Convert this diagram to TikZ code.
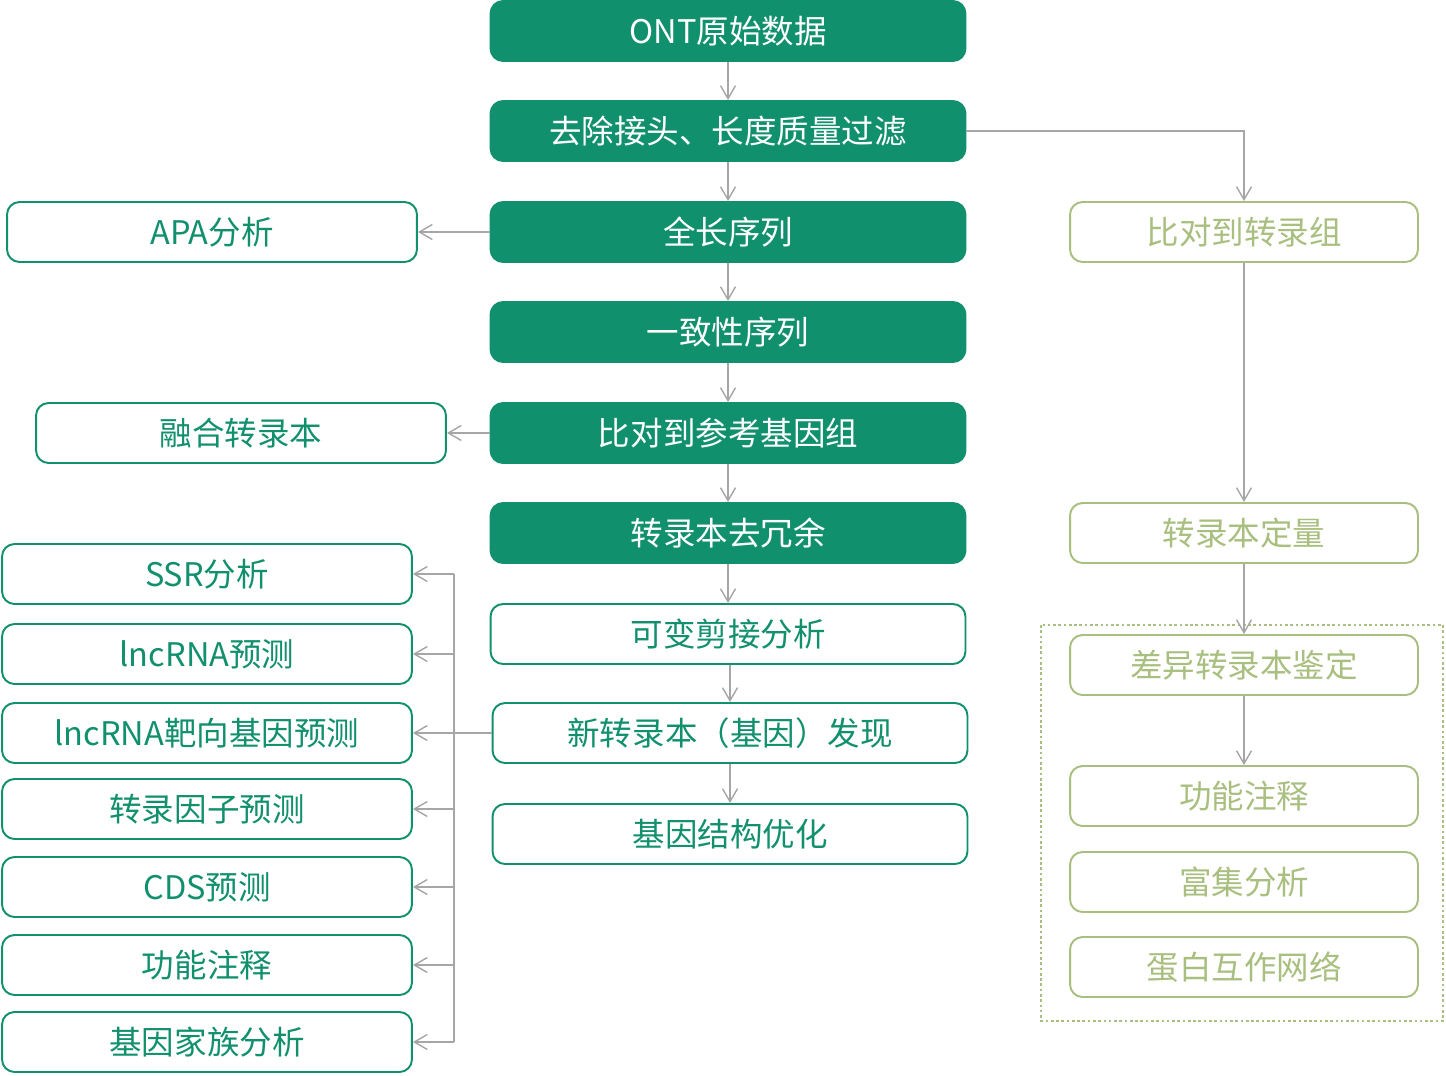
\documentclass[tikz,border=0pt]{standalone}
\usepackage{fontspec}
\setmainfont{Noto Sans CJK SC}
\usetikzlibrary{arrows.meta}
\definecolor{ontgreen}{HTML}{11906E}
\definecolor{palegreen}{HTML}{A9BF7F}
\definecolor{linkgray}{HTML}{A6A6A6}
\newcommand{\boxfont}{\fontsize{18.5}{22}\selectfont}

\begin{document}
\begin{tikzpicture}[
        x=0.02cm, y=-0.02cm,
        filled/.style={rectangle, rounded corners=0.25cm, draw=ontgreen, fill=ontgreen, text=white, line width=1.1pt, minimum width=9.5cm, minimum height=1.2cm, inner sep=0pt, font=\boxfont},
        outline/.style={rectangle, rounded corners=0.25cm, draw=ontgreen, fill=white, text=ontgreen, line width=1.1pt, minimum width=#1, minimum height=1.2cm, inner sep=0pt, font=\boxfont},
        outline/.default=8.2cm,
        pale/.style={rectangle, rounded corners=0.25cm, draw=palegreen, fill=white, text=palegreen, line width=1.1pt, minimum width=6.96cm, minimum height=1.2cm, inner sep=0pt, font=\boxfont},
        line/.style={draw=linkgray, line width=0.8pt},
        link/.style={line, -{Straight Barb[length=0.26cm, width=0.3cm]}}
    ]
    \useasboundingbox (0,0) rectangle (1446,1075);

    % main pipeline
    \node[filled] (ont) at (728,31) {ONT原始数据};
    \node[filled] (clean) at (728,131) {去除接头、长度质量过滤};
    \node[filled] (full) at (728,232) {全长序列};
    \node[filled] (cons) at (728,332) {一致性序列};
    \node[filled] (genome) at (728,433) {比对到参考基因组};
    \node[filled] (dedup) at (728,533) {转录本去冗余};
    \node[outline=9.5cm] (splice) at (728,634) {可变剪接分析};
    \node[outline=9.5cm] (novel) at (730,733) {新转录本（基因）发现};
    \node[outline=9.5cm] (struct) at (730,834) {基因结构优化};

    \draw[link] (ont) -- (clean);
    \draw[link] (clean) -- (full);
    \draw[link] (full) -- (cons);
    \draw[link] (cons) -- (genome);
    \draw[link] (genome) -- (dedup);
    \draw[link] (dedup.south) -- (dedup.south |- splice.north);
    \draw[link] (splice.south -| novel) -- (novel);
    \draw[link] (novel) -- (struct);

    % left side
    \node[outline] (apa) at (212,232) {APA分析};
    \node[outline] (fusion) at (241,433) {融合转录本};
    \node[outline] (ssr) at (207,574) {SSR分析};
    \node[outline] (lnc) at (207,654) {lncRNA预测};
    \node[outline] (target) at (207,733) {lncRNA靶向基因预测};
    \node[outline] (tf) at (207,809) {转录因子预测};
    \node[outline] (cds) at (207,887) {CDS预测};
    \node[outline] (func) at (207,965) {功能注释};
    \node[outline] (family) at (207,1042) {基因家族分析};

    \draw[link] (full) -- (apa);
    \draw[link] (genome) -- (fusion);

    \coordinate (bus) at (454,0);
    \draw[line] (novel.west) -- (novel.west -| bus);
    \draw[line] (ssr.east -| bus) -- (family.east -| bus);
    \foreach \n in {ssr,lnc,target,tf,cds,func,family}
        \draw[link] (\n.east -| bus) -- (\n.east);

    % right side
    \draw[palegreen, line width=1.5pt, dash pattern=on 1.5pt off 1.5pt] (1041,625) rectangle (1443,1021);
    \node[pale] (maptx) at (1244,232) {比对到转录组};
    \node[pale] (quant) at (1244,533) {转录本定量};
    \node[pale] (diff) at (1244,665) {差异转录本鉴定};
    \node[pale] (anno) at (1244,796) {功能注释};
    \node[pale] (enrich) at (1244,882) {富集分析};
    \node[pale] (ppi) at (1244,967) {蛋白互作网络};

    \draw[link] (clean.east) -| (maptx);
    \draw[link] (maptx) -- (quant);
    \draw[link] (quant) -- (diff);
    \draw[link] (diff) -- (anno);
\end{tikzpicture}
\end{document}
